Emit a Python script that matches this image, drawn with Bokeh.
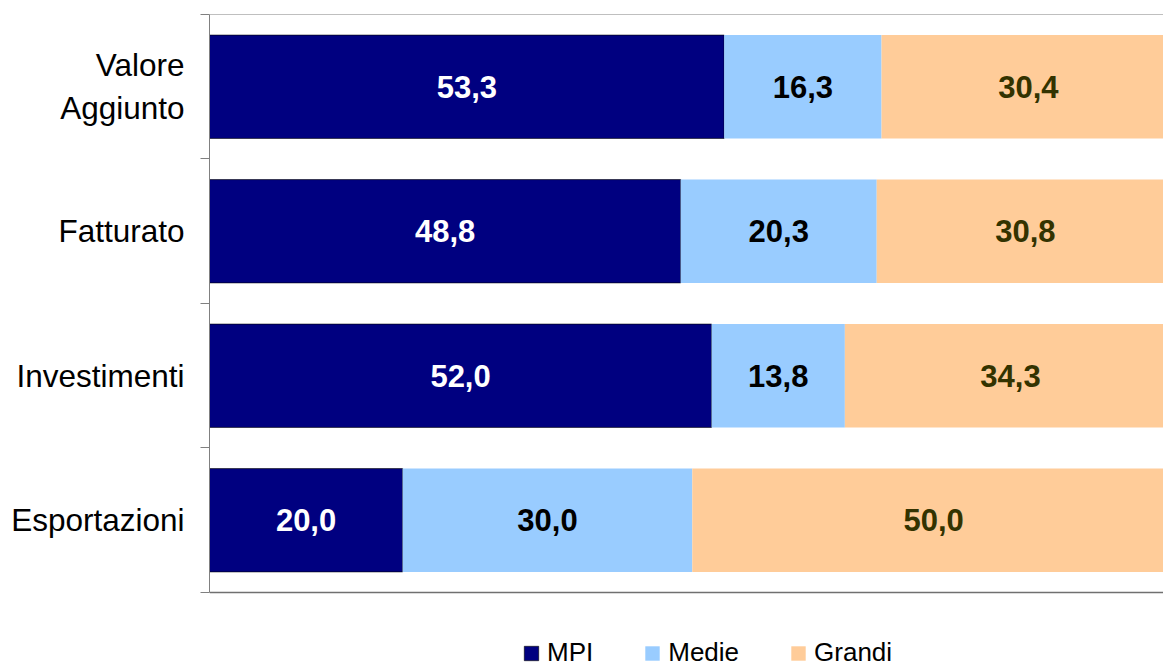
from bokeh.plotting import figure
from bokeh.models import (ColumnDataSource, Range1d, FixedTicker, Span, Legend, LegendItem)
from bokeh.core.properties import value
from bokeh.embed import file_html
from bokeh.resources import INLINE

categories = ["Valore Aggiunto", "Fatturato", "Investimenti", "Esportazioni"]
tick_labels = ["Valore\nAggiunto", "Fatturato", "Investimenti", "Esportazioni"]
mpi = [53.3, 48.8, 52.0, 20.0]
medie = [16.3, 20.3, 13.8, 30.0]
grandi = [30.4, 30.8, 34.3, 50.0]
series_names = ["MPI", "Medie", "Grandi"]
colors = ["#000080", "#99CCFF", "#FFCC99"]
text_colors = ["#FFFFFF", "#000000", "#333300"]

FONT = "Liberation Sans"
n = len(categories)
ypos = [n - i - 0.5 for i in range(n)]

# the frame extends below the category area to host the legend
p = figure(width=1163, height=668, output_backend="svg", toolbar_location=None,
           x_range=Range1d(0, 98.8), y_range=Range1d(-0.526, n),
           min_border_left=209, min_border_right=0, min_border_top=14, min_border_bottom=0)
p.outline_line_color = None
p.xgrid.visible = False
p.ygrid.visible = False
p.xaxis.visible = False

left = [0.0] * n
renderers = []
for name, vals, col, tcol in zip(series_names, [mpi, medie, grandi], colors, text_colors):
    right = [l + v for l, v in zip(left, vals)]
    src = ColumnDataSource(dict(y=ypos, left=left, right=right,
                                xc=[(l + r) / 2 for l, r in zip(left, right)],
                                lab=[f"{v:.1f}".replace(".", ",") for v in vals]))
    r = p.hbar(y="y", left="left", right="right", height=0.715, source=src,
               fill_color=col, line_color="#000000" if name == "MPI" else None, line_width=0.6)
    renderers.append(r)
    p.text(x="xc", y="y", text="lab", source=src, text_align="center", text_baseline="middle",
           text_font=value(FONT), text_font_style="bold", text_font_size="31px", text_color=tcol)
    left = right

yax = p.yaxis[0]
yax.bounds = (0, n)
yax.ticker = FixedTicker(ticks=ypos, minor_ticks=list(range(n + 1)))
yax.major_label_overrides = {y: t for y, t in zip(ypos, tick_labels)}
yax.major_tick_line_color = None
yax.major_tick_out = 0
yax.major_tick_in = 0
yax.minor_tick_line_color = "#808080"
yax.minor_tick_out = 9
yax.minor_tick_in = 0
yax.axis_line_color = "#808080"
yax.major_label_text_font = FONT
yax.major_label_text_font_size = "31.5px"
yax.major_label_text_color = "#000000"
yax.major_label_standoff = 16

p.add_layout(Span(location=n, dimension="width", line_color="#808080", line_width=1))
p.add_layout(Span(location=0, dimension="width", line_color="#707070", line_width=1.5))

legend = Legend(items=[LegendItem(label=nm, renderers=[r]) for nm, r in zip(series_names, renderers)],
                orientation="horizontal", location=(313, 0), border_line_color=None,
                background_fill_alpha=0, padding=0, margin=0, spacing=50,
                glyph_width=18, glyph_height=18, label_standoff=7,
                label_text_font=FONT, label_text_font_size="26px", label_text_color="#000000")
p.add_layout(legend, "center")

open("out.html", "w").write(file_html(p, INLINE))
